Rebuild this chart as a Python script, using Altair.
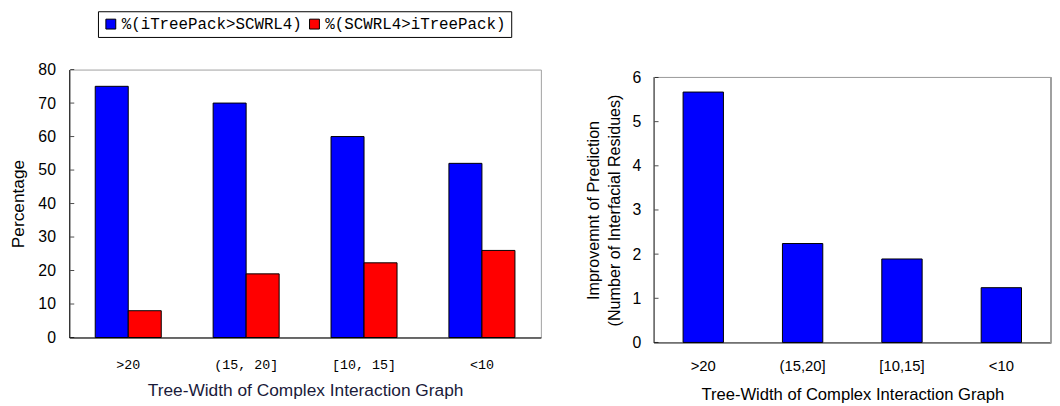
import altair as alt
import pandas as pd

# ---- data ----
left_categories = [">20", "(15, 20]", "[10, 15]", "<10"]
series_names = ["%(iTreePack>SCWRL4)", "%(SCWRL4>iTreePack)"]
itreepack_better = [75, 70, 60, 52]
scwrl4_better = [8, 19, 22.3, 26]
left_ticks = [0, 10, 20, 30, 40, 50, 60, 70, 80]

right_categories = [">20", "(15,20]", "[10,15]", "<10"]
improvement = [5.67, 2.24, 1.89, 1.24]
right_ticks = [0, 1, 2, 3, 4, 5, 6]

series_colors = ["#0000FF", "#FF0000"]

# ---- tables ----
rows = []
for c, a, b in zip(left_categories, itreepack_better, scwrl4_better):
    rows.append({"category": c, "series": series_names[0], "value": a})
    rows.append({"category": c, "series": series_names[1], "value": b})
left_df = pd.DataFrame(rows)
left_tick_df = pd.DataFrame({"value": left_ticks})

right_df = pd.DataFrame({"category": right_categories, "value": improvement})
right_tick_df = pd.DataFrame({"value": right_ticks})

SANS = "Liberation Sans"
MONO = "Liberation Mono"

LW, LH = 477, 271
RW, RH = 402, 276  # right plot sits 8px lower than the left one

# ---- left chart ----
left_x = alt.X(
    "category:N",
    sort=left_categories,
    scale=alt.Scale(paddingInner=0.44, paddingOuter=0.22),
    axis=alt.Axis(
        title="Tree-Width of Complex Interaction Graph",
        labelAngle=0, ticks=False, labelFont=MONO, labelFontSize=13.5,
        labelPadding=20, titleFont=SANS, titleFontSize=17.5,
        titleFontWeight="normal", titlePadding=11, titleColor="#1a1a3a",
        labelColor="black", domainColor="black",
    ),
)
left_y_axis = alt.Axis(
    title="Percentage", values=left_ticks, tickCount=9, ticks=False, grid=False,
    labelOverlap=False, labelFlush=False,
    labelFont=SANS, labelFontSize=16, labelPadding=14, labelColor="black",
    titleFont=SANS, titleFontSize=17.5, titleFontWeight="normal",
    titlePadding=11, titleColor="black", domainColor="black",
)
left_y_scale = alt.Scale(domain=[0, 80], nice=False)

left_bars = alt.Chart(left_df).mark_bar(stroke="black", strokeWidth=1).encode(
    x=left_x,
    xOffset=alt.XOffset("series:N", sort=series_names),
    y=alt.Y("value:Q", scale=left_y_scale, axis=left_y_axis),
    color=alt.Color(
        "series:N",
        scale=alt.Scale(domain=series_names, range=series_colors),
        legend=alt.Legend(
            title=None, orient="none", legendX=29, legendY=-59,
            direction="horizontal", strokeColor="black", padding=5,
            symbolType="square", symbolSize=100, symbolStrokeColor="black",
            symbolStrokeWidth=1, symbolOpacity=1, labelFont=MONO,
            labelFontSize=16, labelColor="black", labelOffset=3,
            labelLimit=400, columnPadding=4,
        ),
    ),
)
left_inner_ticks = alt.Chart(left_tick_df).mark_tick(
    orient="horizontal", size=4, thickness=1, color="black"
).encode(
    y=alt.Y("value:Q", scale=left_y_scale, axis=left_y_axis), x=alt.value(3)
)

left_chart = alt.layer(left_bars, left_inner_ticks).properties(width=LW, height=LH)

# ---- right chart ----
right_x = alt.X(
    "category:N",
    sort=right_categories,
    scale=alt.Scale(paddingInner=0.594, paddingOuter=0.297),
    axis=alt.Axis(
        title="Tree-Width of Complex Interaction Graph",
        labelAngle=0, ticks=False, labelFont=SANS, labelFontSize=15,
        labelPadding=16, titleFont=SANS, titleFontSize=16.8,
        titleFontWeight="normal", titlePadding=14, titleColor="black",
        labelColor="black", domainColor="black",
    ),
)
right_y_axis = alt.Axis(
    title=["Improvemnt of Prediction", "(Number of Interfacial Residues)"],
    values=right_ticks, ticks=False, grid=False,
    labelOverlap=False, labelFlush=False,
    labelFont=SANS, labelFontSize=16, labelPadding=13, labelColor="black",
    titleFont=SANS, titleFontSize=16.3, titleFontWeight="normal",
    titlePadding=10, titleColor="black", titleLineHeight=21,
    domainColor="black",
)
right_y_scale = alt.Scale(domain=[0, 6], nice=False, range=[RH, 8])

right_bars = alt.Chart(right_df).mark_bar(
    stroke="black", strokeWidth=1, color="#0000FF"
).encode(x=right_x, y=alt.Y("value:Q", scale=right_y_scale, axis=right_y_axis))
right_inner_ticks = alt.Chart(right_tick_df).mark_tick(
    orient="horizontal", size=4, thickness=1, color="black"
).encode(
    y=alt.Y("value:Q", scale=right_y_scale, axis=right_y_axis), x=alt.value(3)
)

# grey frame on the top and right of the right plot
right_top_border = alt.Chart(right_tick_df).mark_rule(
    color="#a0a0a0", strokeWidth=1
).encode(y=alt.datum(6), x=alt.value(0), x2=alt.value(RW))
right_side_border = alt.Chart(right_tick_df).mark_rule(
    color="#a0a0a0", strokeWidth=1
).encode(x=alt.value(RW), y=alt.datum(0), y2=alt.datum(6))

right_chart = alt.layer(
    right_top_border, right_side_border, right_bars, right_inner_ticks
).properties(width=RW, height=RH, view=alt.ViewConfig(stroke=None))

chart = (
    alt.hconcat(left_chart, right_chart, spacing=44)
    .properties(padding=0, background="white")
    .configure_view(stroke="#a0a0a0", strokeWidth=1)
)

chart.save("out.html", embed_options={"renderer": "svg", "actions": False})
